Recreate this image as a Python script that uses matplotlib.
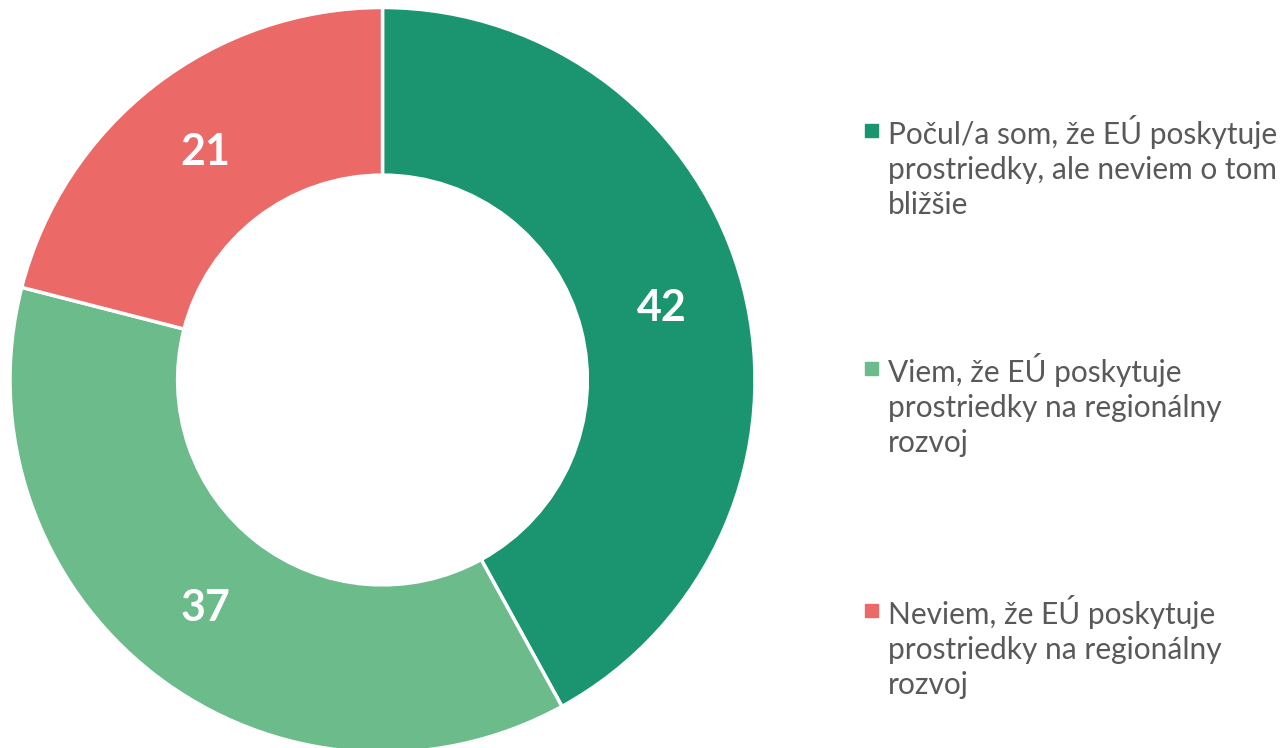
import matplotlib.pyplot as plt
from matplotlib.patches import Rectangle

plt.rcParams['font.family'] = ['Lato', 'DejaVu Sans']

labels = ['Počul/a som, že EÚ poskytuje\nprostriedky, ale neviem o tom\nbližšie',
          'Viem, že EÚ poskytuje\nprostriedky na regionálny\nrozvoj',
          'Neviem, že EÚ poskytuje\nprostriedky na regionálny\nrozvoj']
values = [42, 37, 21]
colors = ['#1A9570', '#6CBB8B', '#EB6967']

W, H = 1283, 748
fig = plt.figure(figsize=(W / 100, H / 100), dpi=100)

# donut axes: center (382.5, 380) px from top, radius 372.5 px
cx, cy, r = 382.5, 380, 372.5
ax = fig.add_axes([(cx - r) / W, (H - cy - r) / H, 2 * r / W, 2 * r / H])
wedges, texts, autotexts = ax.pie(values, colors=colors, startangle=90, counterclock=False,
                                  radius=1, autopct='%d', pctdistance=0.775,
                                  wedgeprops=dict(width=0.45, edgecolor='white', linewidth=2.5),
                                  textprops=dict(color='white', fontsize=31, fontweight='bold'))
ax.set_xlim(-1, 1)
ax.set_ylim(-1, 1)
ax.set_aspect('equal')
ax.axis('off')

# legend
first_line = [130, 368, 610]
for lab, col, y in zip(labels, colors, first_line):
    fig.patches.append(Rectangle(((865) / W, (H - y - 6.5) / H), 13 / W, 13 / H,
                                 transform=fig.transFigure, color=col))
    fig.text(888 / W, (H - y + 15) / H, lab, fontsize=21.5, color='#595959',
             va='top', ha='left', linespacing=1.3)

fig.savefig('out.png', dpi=100)
